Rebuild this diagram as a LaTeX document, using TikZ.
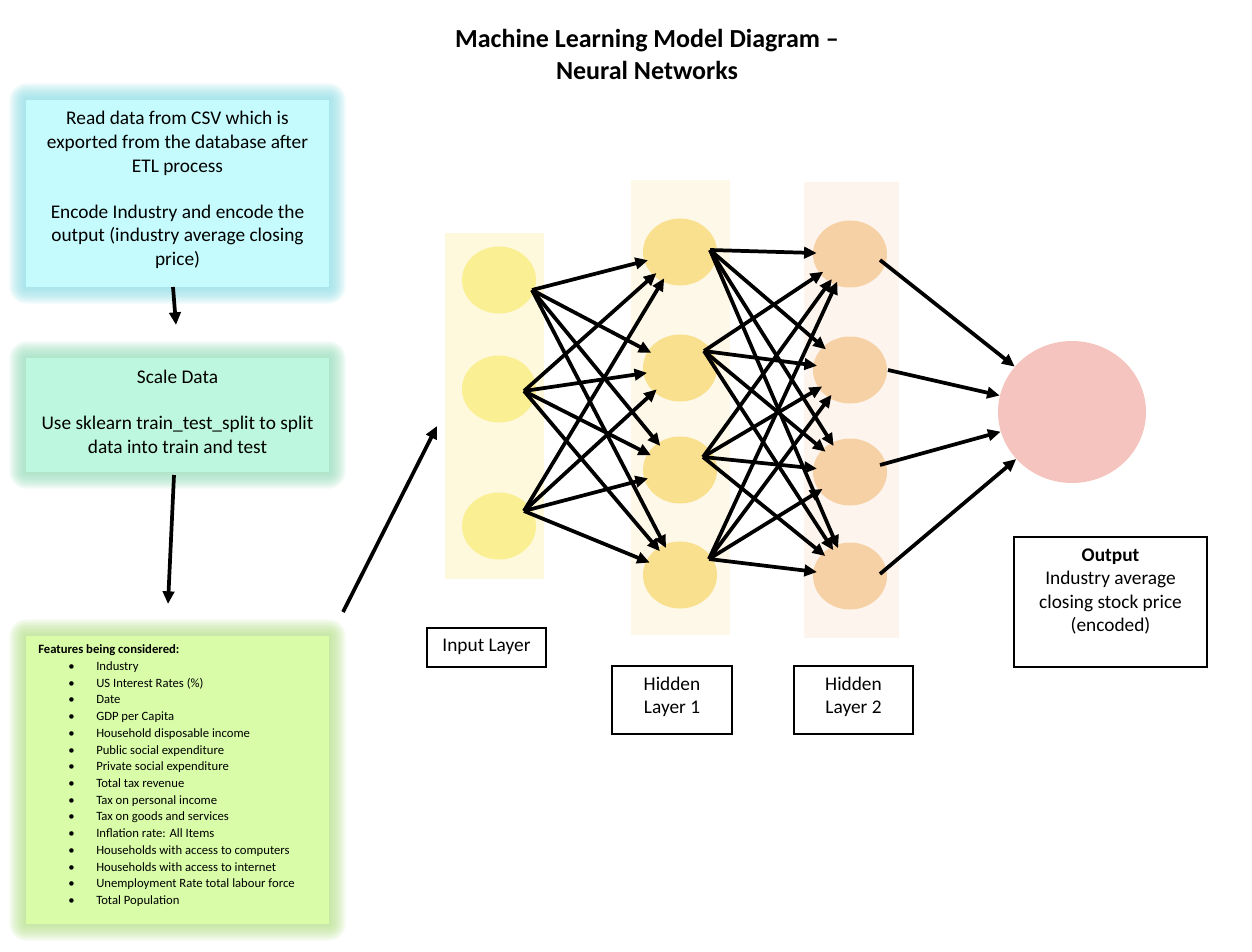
\documentclass[tikz,border=0pt]{standalone}
\usepackage{fontspec}
\setmainfont{Carlito}
\usetikzlibrary{shapes.geometric,arrows.meta}
\definecolor{boxA}{HTML}{C5FBFC}
\definecolor{glowA}{HTML}{8FE0E8}
\definecolor{boxB}{HTML}{BEF7DF}
\definecolor{glowB}{HTML}{98E0BC}
\definecolor{boxC}{HTML}{D8FCA8}
\definecolor{glowC}{HTML}{B8E48C}
\definecolor{inN}{HTML}{FBEF93}
\definecolor{inBg}{HTML}{FEF9DD}
\definecolor{hAN}{HTML}{F9E08F}
\definecolor{hABg}{HTML}{FEF8E8}
\definecolor{hBN}{HTML}{F7D1A6}
\definecolor{hBBg}{HTML}{FDF4EE}
\definecolor{outN}{HTML}{F5C4BE}
\newcommand\glowbox[5]{%
  \foreach \k in {1,...,12}{%
    \fill[#5, opacity=0.1, rounded corners=\k*1.1pt]
      (#1-\k*1.4,#2-\k*1.4) rectangle (#3+\k*1.4,#4+\k*1.4);}}
\newcommand\itm[1]{\makebox[43.5pt][l]{\hspace*{22.5pt}\textbullet}#1}
\begin{document}
\begin{tikzpicture}[x=0.75pt,y=-0.75pt,
  arr/.style={line width=2.8pt, -{Triangle[length=9.5pt,width=8.5pt]}},
  narr/.style={arr, shorten >=-3pt},
  neuron/.style={ellipse, inner sep=0pt, minimum width=74*0.75pt, minimum height=67*0.75pt},
  body/.style={font=\fontsize{14.5}{17.7}\selectfont, align=center},
  stepbox/.style={inner sep=0pt, minimum width=303*0.75pt},
  lbl/.style={draw=black, line width=0.8pt, inner sep=0pt}]
\useasboundingbox (0,0) rectangle (1252,952);
\fill[white] (0,0) rectangle (1252,952);

% title
\node[font=\fontsize{19.5}{24}\selectfont\bfseries, align=center] (title) at (647,54)
  {Machine Learning Model Diagram –\\Neural Networks};

% left flow boxes
\glowbox{26}{100}{329}{287}{glowA}
\node[stepbox, fill=boxA, minimum height=187*0.75pt] (b1) at (177.5,193.5) {};
\node[body] (b1t) at (177.5,190)
  {Read data from CSV which is\\exported from the database after\\ETL process\\[17pt]Encode Industry and encode the\\output (industry average closing\\price)};
\glowbox{26}{358}{329}{472}{glowB}
\node[stepbox, fill=boxB, minimum height=114*0.75pt] (b2) at (177.5,415) {};
\node[body] (b2t) at (177.5,412)
  {Scale Data\\[17pt]Use sklearn train\_test\_split to split\\data into train and test};
\glowbox{26}{636}{329}{924}{glowC}
\node[stepbox, fill=boxC, minimum height=288*0.75pt] (b3) at (177.5,780) {};
\node[anchor=north west, inner sep=0pt, align=left, font=\fontsize{9.5}{12.55}\selectfont] (feat) at (38,644.5)
  {\textbf{Features being considered:}\\
   \itm{Industry}\\
   \itm{US Interest Rates (\%)}\\
   \itm{Date}\\
   \itm{GDP per Capita}\\
   \itm{Household disposable income}\\
   \itm{Public social expenditure}\\
   \itm{Private social expenditure}\\
   \itm{Total tax revenue}\\
   \itm{Tax on personal income}\\
   \itm{Tax on goods and services}\\
   \itm{Inflation rate: All Items}\\
   \itm{Households with access to computers}\\
   \itm{Households with access to internet}\\
   \itm{Unemployment Rate total labour force}\\
   \itm{Total Population}};

\coordinate (a1s) at (173,287); \coordinate (a1e) at (176,325);
\coordinate (a2s) at (174,475); \coordinate (a2e) at (168,604);
\coordinate (a3s) at (343,612); \coordinate (a3e) at (437,426);
\draw[arr] (a1s) -- (a1e);
\draw[arr] (a2s) -- (a2e);
\draw[arr] (a3s) -- (a3e);

% layer backgrounds
\fill[inBg] (445,233) rectangle (544,579);
\fill[hABg] (631,180) rectangle (730,635);
\fill[hBBg] (804,182) rectangle (899,638);

% neurons
\node[neuron, fill=inN] (i1) at (499,280) {};
\node[neuron, fill=inN] (i2) at (499,389) {};
\node[neuron, fill=inN] (i3) at (499,526) {};
\node[neuron, fill=hAN] (ha1) at (680,252) {};
\node[neuron, fill=hAN] (ha2) at (680,368) {};
\node[neuron, fill=hAN] (ha3) at (680,470) {};
\node[neuron, fill=hAN] (ha4) at (680,575) {};
\node[neuron, fill=hBN] (hb1) at (850,254) {};
\node[neuron, fill=hBN] (hb2) at (850,370) {};
\node[neuron, fill=hBN] (hb3) at (850,472) {};
\node[neuron, fill=hBN] (hb4) at (850,576) {};
\node[ellipse, inner sep=0pt, minimum width=148*0.75pt, minimum height=142*0.75pt, fill=outN] (out) at (1072,412) {};

% arrow origins
\coordinate (io1) at (532,290);
\coordinate (io2) at (524,391);
\coordinate (io3) at (524,511);
\coordinate (hao1) at (710,250);
\coordinate (hao2) at (704,351);
\coordinate (hao3) at (703,457);
\coordinate (hao4) at (709,559);
\coordinate (hbo1) at (880,260);
\coordinate (hbo2) at (888,370);
\coordinate (hbo3) at (880,465);
\coordinate (hbo4) at (880,574);

\foreach \s in {1,2,3}{\foreach \t in {1,...,4}{\draw[narr] (io\s) -- (ha\t);}}
\foreach \s in {1,...,4}{\foreach \t in {1,...,4}{\draw[narr] (hao\s) -- (hb\t);}}
\foreach \s in {1,...,4}{\draw[arr] (hbo\s) -- (out);}

% labels
\node[lbl, minimum width=119*0.75pt, minimum height=39*0.75pt] (linput) at (486.5,647.5) {};
\node[body] (linputt) at (486.5,646.5) {Input Layer};
\node[lbl, minimum width=120*0.75pt, minimum height=68*0.75pt] (lh1) at (672,700) {};
\node[body] (lh1t) at (672,697) {Hidden\\Layer 1};
\node[lbl, minimum width=119*0.75pt, minimum height=68*0.75pt] (lh2) at (853.5,700) {};
\node[body] (lh2t) at (853.5,697) {Hidden\\Layer 2};
\node[lbl, minimum width=193*0.75pt, minimum height=130*0.75pt] (lout) at (1110.5,602) {};
\node[body] (loutt) at (1110.5,591.5) {\textbf{Output}\\Industry average\\closing stock price\\(encoded)};
\end{tikzpicture}
\end{document}
